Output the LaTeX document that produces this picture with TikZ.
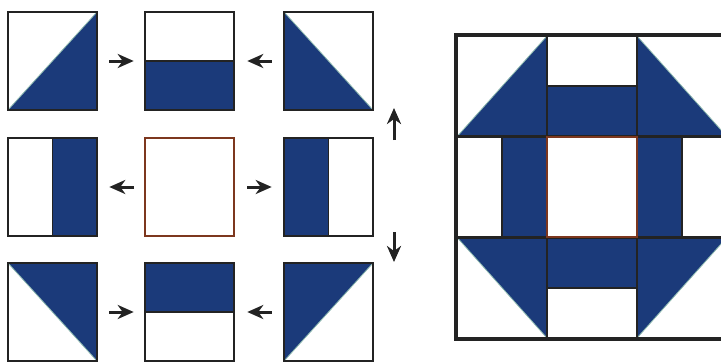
\documentclass[tikz,border=0pt]{standalone}
\usetikzlibrary{arrows.meta}
\definecolor{qblue}{RGB}{27,58,122}
\definecolor{qedge}{RGB}{140,185,175}
\definecolor{qbrown}{RGB}{125,55,30}
\definecolor{qline}{RGB}{35,35,35}
\begin{document}
\begin{tikzpicture}[x=1pt,y=-1pt,
  tile/.style={draw=qline, line width=2.6pt, inner sep=0pt, minimum width=89pt, minimum height=98pt, fill=white},
  btile/.style={tile, minimum width=90pt, minimum height=100.7pt},
  plainc/.style={draw=qbrown, line width=2pt},
  trilr/.style={path picture={\fill[qblue] (path picture bounding box.north east) -- (path picture bounding box.south east) -- (path picture bounding box.south west) -- cycle;
     \draw[qedge, line width=0.8pt] (path picture bounding box.north east) -- (path picture bounding box.south west);}},
  trill/.style={path picture={\fill[qblue] (path picture bounding box.north west) -- (path picture bounding box.south west) -- (path picture bounding box.south east) -- cycle;
     \draw[qedge, line width=0.8pt] (path picture bounding box.north west) -- (path picture bounding box.south east);}},
  triur/.style={path picture={\fill[qblue] (path picture bounding box.north west) -- (path picture bounding box.north east) -- (path picture bounding box.south east) -- cycle;
     \draw[qedge, line width=0.8pt] (path picture bounding box.north west) -- (path picture bounding box.south east);}},
  triul/.style={path picture={\fill[qblue] (path picture bounding box.north west) -- (path picture bounding box.north east) -- (path picture bounding box.south west) -- cycle;
     \draw[qedge, line width=0.8pt] (path picture bounding box.north east) -- (path picture bounding box.south west);}},
  halfb/.style={path picture={\fill[qblue] (path picture bounding box.west) rectangle (path picture bounding box.south east);
     \draw[qline, line width=1.8pt] (path picture bounding box.west) -- (path picture bounding box.east);}},
  halft/.style={path picture={\fill[qblue] (path picture bounding box.north west) rectangle (path picture bounding box.east);
     \draw[qline, line width=1.8pt] (path picture bounding box.west) -- (path picture bounding box.east);}},
  halfl/.style={path picture={\fill[qblue] (path picture bounding box.north west) rectangle (path picture bounding box.south);
     \draw[qline, line width=1.8pt] (path picture bounding box.north) -- (path picture bounding box.south);}},
  halfr/.style={path picture={\fill[qblue] (path picture bounding box.north) rectangle (path picture bounding box.south east);
     \draw[qline, line width=1.8pt] (path picture bounding box.north) -- (path picture bounding box.south);}},
  arr/.style={draw=qline, line width=3pt, -{Stealth[length=16pt,width=14pt,inset=5pt]}}
]
\useasboundingbox (0,0) rectangle (721,362);
\fill[white] (0,0) rectangle (721,362);

% left grid
\node[tile, trilr] (a11) at (52.5,61) {};
\node[tile, halfb] (a12) at (189.5,61) {};
\node[tile, trill] (a13) at (328.5,61) {};
\node[tile, halfr] (a21) at (52.5,187) {};
\node[tile, plainc] (a22) at (189.5,187) {};
\node[tile, halfl] (a23) at (328.5,187) {};
\node[tile, triur] (a31) at (52.5,312) {};
\node[tile, halft] (a32) at (189.5,312) {};
\node[tile, triul] (a33) at (328.5,312) {};

% arrows in the grid
\draw[arr, shorten <=11pt, shorten >=10pt] (a11.east) -- (a12.west);
\draw[arr, shorten <=11pt, shorten >=12pt] (a13.west) -- (a12.east);
\draw[arr, shorten <=10pt, shorten >=11pt] (a22.west) -- (a21.east);
\draw[arr, shorten <=12pt, shorten >=11pt] (a22.east) -- (a23.west);
\draw[arr, shorten <=11pt, shorten >=10pt] (a31.east) -- (a32.west);
\draw[arr, shorten <=11pt, shorten >=12pt] (a33.west) -- (a32.east);

% vertical arrows
\coordinate (u0) at (394,140);
\coordinate (u1) at (394,108);
\coordinate (d0) at (394,232);
\coordinate (d1) at (394,262);
\draw[arr] (u0) -- (u1);
\draw[arr] (d0) -- (d1);

% assembled block
\node[btile, trilr] (b11) at (502,86.35) {};
\node[btile, halfb] (b12) at (592,86.35) {};
\node[btile, trill] (b13) at (682,86.35) {};
\node[btile, halfr] (b21) at (502,187) {};
\node[btile, halfl] (b23) at (682,187) {};
\node[btile, triur] (b31) at (502,287.65) {};
\node[btile, halft] (b32) at (592,287.65) {};
\node[btile, triul] (b33) at (682,287.65) {};
\node[btile, plainc] (b22) at (592,187) {};
\draw[qline, line width=2.8pt] (b11.north west) rectangle (b33.south east);
\end{tikzpicture}
\end{document}
